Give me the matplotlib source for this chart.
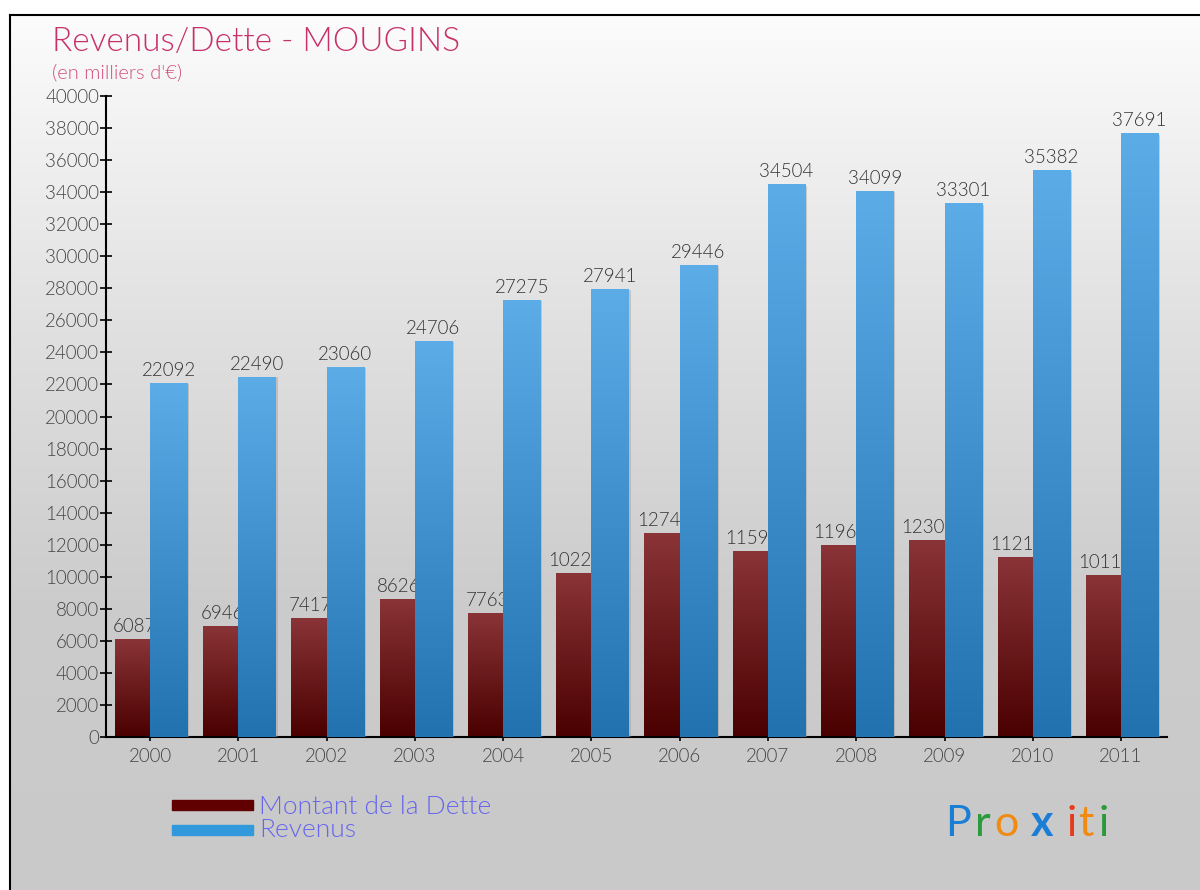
import numpy as np
import matplotlib.pyplot as plt
from matplotlib.colors import LinearSegmentedColormap

# Data (en milliers d'euros)
years = ['2000', '2001', '2002', '2003', '2004', '2005',
         '2006', '2007', '2008', '2009', '2010', '2011']
dette = [6087, 6946, 7417, 8626, 7763, 10225, 12740, 11592, 11960, 12300, 11219, 10119]
revenus = [22092, 22490, 23060, 24706, 27275, 27941, 29446, 34504, 34099, 33301, 35382, 37691]

plt.rcParams['font.family'] = ['Lato', 'DejaVu Sans']
plt.rcParams['font.weight'] = 300

W, H = 1200, 890
fig = plt.figure(figsize=(W / 100, H / 100), dpi=100)
fig.patch.set_facecolor('white')

# background panel with grey gradient and black frame on left/top
bg = fig.add_axes([10 / W, 0, 1 - 10 / W, (H - 15) / H], zorder=0)
bg_cmap = LinearSegmentedColormap.from_list('bg', ['#fcfcfc', '#e2e2e2', '#cccccc', '#c9c9c9'])
bg.imshow(np.linspace(0, 1, 256).reshape(-1, 1), cmap=bg_cmap, aspect='auto',
          extent=(0, 1, 0, 1), origin='upper')
bg.set_xlim(0, 1)
bg.set_ylim(0, 1)
bg.set_xticks([])
bg.set_yticks([])
for s in ['right', 'bottom']:
    bg.spines[s].set_visible(False)
for s in ['left', 'top']:
    bg.spines[s].set_color('black')
    bg.spines[s].set_linewidth(1.5)

ax = fig.add_axes([106 / W, (H - 737) / H, (1167 - 106) / W, (737 - 96) / H], zorder=1)
ax.patch.set_visible(False)

x = np.arange(len(years))
w_d, w_r = 0.40, 0.42

cm_d = LinearSegmentedColormap.from_list('d', ['#4a0000', '#8a3437'])
cm_r = LinearSegmentedColormap.from_list('r', ['#2272b0', '#5cacE8'])
grad = np.linspace(0, 1, 256).reshape(-1, 1)


def grad_bar(x0, width, height, cmap, z):
    bar = ax.bar(x0, height, width, align='edge', color='none', edgecolor='none', zorder=z)[0]
    im = ax.imshow(grad, cmap=cmap, aspect='auto', origin='lower',
                   extent=(x0, x0 + width, 0, height), zorder=z)
    im.set_clip_path(bar)
    # thin shadow on the right side
    ax.plot([x0 + width + 0.012, x0 + width + 0.012], [0, height * 0.995],
            color='#9a9a9a', lw=1.2, alpha=0.5, zorder=z - 0.1)


for i in range(len(years)):
    grad_bar(x[i] - w_d, w_d, dette[i], cm_d, 2)
    ax.text(x[i] - w_d / 2 + 0.02, dette[i] + 250, str(dette[i]), ha='center', va='bottom',
            fontsize=13.5, color='#333333', zorder=1.5)
    grad_bar(x[i], w_r, revenus[i], cm_r, 3)
    ax.text(x[i] + w_r / 2, revenus[i] + 250, str(revenus[i]), ha='center', va='bottom',
            fontsize=13.5, color='#333333', zorder=4)

ax.set_xlim(-0.5, 11.52)
ax.set_ylim(0, 40000)
ax.set_yticks(np.arange(0, 40001, 2000))
ax.set_xticks(x)
ax.set_xticklabels(years)
ax.tick_params(axis='y', direction='inout', length=8, width=1.2, labelsize=13.5,
               labelcolor='#444444', pad=1)
ax.tick_params(axis='x', direction='inout', length=6, width=1.2, labelsize=13.5,
               labelcolor='#444444', pad=5)
for s in ['top', 'right']:
    ax.spines[s].set_visible(False)
for s in ['left', 'bottom']:
    ax.spines[s].set_linewidth(1.5)
    ax.spines[s].set_color('black')

# titles
fig.text(52 / W, 1 - 42 / H, 'Revenus/Dette - MOUGINS', fontsize=24, color='#c8306a',
         va='center', ha='left')
fig.text(52 / W, 1 - 73 / H, "(en milliers d'€)", fontsize=14.5, color='#d0507f',
         va='center', ha='left')

# legend
fig.patches.append(plt.Rectangle((172 / W, 1 - 810 / H), 81 / W, 10 / H,
                                 transform=fig.transFigure, color='#600000', zorder=5))
fig.patches.append(plt.Rectangle((172 / W, 1 - 835 / H), 81 / W, 10 / H,
                                 transform=fig.transFigure, color='#3399dd', zorder=5))
fig.text(259 / W, 1 - 807 / H, 'Montant de la Dette', fontsize=19, color='#6666ee',
         va='center', ha='left', zorder=5)
fig.text(259 / W, 1 - 830 / H, 'Revenus', fontsize=19, color='#6666ee',
         va='center', ha='left', zorder=5)

# logo
logo = [('P', 945, '#1a7ed6'), ('r', 975, '#2a9a3a'), ('o', 994, '#f08a10'),
        ('x', 1031, '#1a7ed6'), ('i', 1067, '#e83a1a'), ('t', 1078, '#f08a10'),
        ('i', 1099, '#2a9a3a')]
for ch, px, col in logo:
    fig.text(px / W, 1 - 836 / H, ch, fontsize=31, color=col, ha='left', va='baseline',
             fontweight='bold' if ch == 'x' else 'normal', zorder=5)

fig.savefig('out.png', dpi=100)
